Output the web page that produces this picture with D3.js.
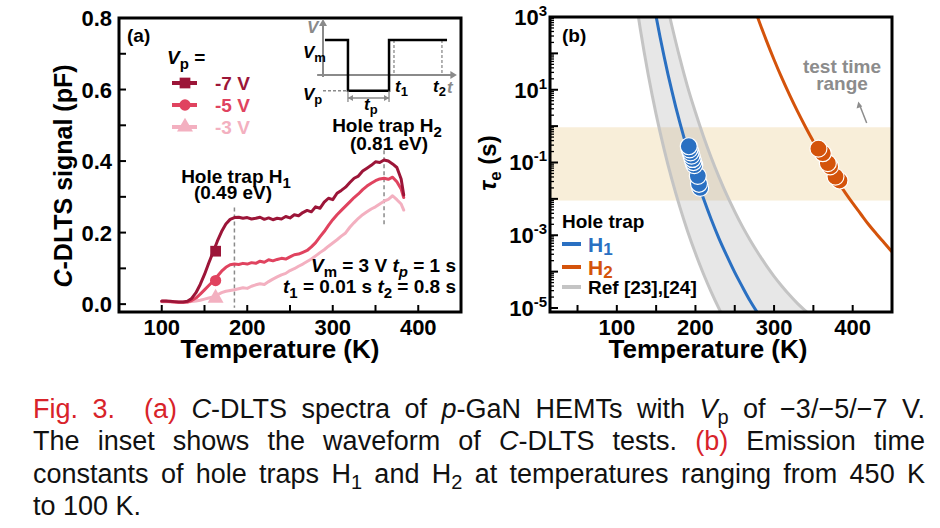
<!DOCTYPE html>
<html><head><meta charset="utf-8">
<script src="https://cdn.jsdelivr.net/npm/d3@7"></script>
<style>
body{margin:0;background:#fff;}
svg{display:block;}
text{font-family:"Liberation Sans", Arial, Helvetica, sans-serif;}
</style></head><body>
<svg id="chart" width="940" height="528"></svg>
<script>
// ---------------- DATA ----------------
// Panel (a): C-DLTS spectra
const tempA = [100,105,110,115,120,125,130,135,140,145,150,155,160,165,170,175,180,185,190,195,200,205,210,215,220,225,230,235,240,245,250,255,260,265,270,275,280,285,290,295,300,305,310,315,320,325,330,335,340,345,350,355,360,365,370,375,380,383];
const sig7 = [0.009,0.009,0.008,0.007,0.006,0.006,0.008,0.016,0.032,0.055,0.083,0.115,0.145,0.176,0.203,0.224,0.237,0.242,0.243,0.240,0.242,0.238,0.240,0.243,0.237,0.241,0.236,0.240,0.238,0.245,0.241,0.250,0.247,0.256,0.262,0.258,0.272,0.268,0.285,0.296,0.292,0.310,0.318,0.327,0.340,0.352,0.358,0.372,0.380,0.388,0.398,0.396,0.403,0.400,0.392,0.382,0.350,0.305];
const sig5 = [0.008,0.008,0.007,0.006,0.005,0.005,0.006,0.010,0.017,0.028,0.040,0.052,0.064,0.078,0.092,0.103,0.110,0.112,0.111,0.114,0.112,0.116,0.114,0.120,0.117,0.124,0.121,0.125,0.128,0.126,0.132,0.138,0.140,0.145,0.150,0.160,0.172,0.188,0.203,0.220,0.236,0.250,0.262,0.274,0.286,0.298,0.308,0.320,0.330,0.338,0.345,0.350,0.352,0.349,0.355,0.342,0.322,0.298];
const sig3 = [0.007,0.007,0.006,0.005,0.005,0.005,0.006,0.007,0.009,0.011,0.014,0.017,0.020,0.026,0.032,0.036,0.038,0.040,0.043,0.046,0.044,0.050,0.054,0.057,0.055,0.063,0.070,0.076,0.082,0.086,0.094,0.099,0.106,0.112,0.119,0.126,0.135,0.144,0.152,0.162,0.171,0.180,0.190,0.199,0.215,0.228,0.240,0.250,0.258,0.266,0.272,0.280,0.288,0.293,0.303,0.292,0.280,0.263];
const seriesLabels = ["-7 V","-5 V","-3 V"];
const markerTemp = [163,163,163];
const markerSig = [0.148,0.066,0.017];
const trapTemp = [185,360];
const trapTop = [0.27,0.43];
const trapBottom = [-0.01,0.215];
const xTicksA = [100,150,200,250,300,350,400];
const xLabelsA = [100,200,300,400];
const yTicksA = [0,0.1,0.2,0.3,0.4,0.5,0.6,0.7,0.8];
const yLabelsA = ["0.0","0.2","0.4","0.6","0.8"];
// inset waveform (schematic units)
const insetT = [0.15,1.92,1.92,5.08,5.08,9.54];
const insetV = [1,1,-0.45,-0.45,1,1];
const insetMarks = [5.46,9.15]; // t1, t2

// Panel (b): emission time constants
const h1Temp = [145,150,155,160,165,170,175,180,185,190,195,200,210,220,230,240,250,260,270,280];
const h1Tau  = [4070,1020,283,85,27,9.3,3.35,1.29,0.52,0.219,0.0964,0.0447,0.0105,2.75e-3,8.1e-4,2.7e-4,9.5e-5,3.7e-5,1.5e-5,6.8e-6];
const h2Temp = [275,280,290,300,310,320,330,340,350,360,370,380,390,400,410,420,430,440,450];
const h2Tau  = [1750,871,231,66.8,20.8,7.0,2.5,0.95,0.38,0.16,0.070,0.032,0.0154,0.0076,0.0039,0.0020,0.0011,6.2e-4,3.5e-4];
const refLowTemp = [125,130,140,150,160,170,180,190,200,210,220,230,235];
const refLowTau  = [2190,444,25.4,2.11,0.238,0.0343,6.1e-3,1.29e-3,3.18e-4,8.9e-5,2.79e-5,9.6e-6,5.8e-6];
const refHighTemp = [165,170,180,190,200,210,220,230,240,250,260,270,280,290,300,310,320,330,340,345];
const refHighTau  = [1660,575,75.9,12.0,2.40,0.537,0.138,0.0398,0.0126,4.47e-3,1.70e-3,7.08e-4,3.16e-4,1.48e-4,7.41e-5,3.98e-5,2.24e-5,1.32e-5,8.3e-6,6.6e-6];
const h1MarkTemp = [191.5,192.5,193.8,195,196.2,197.3,198.5,203,204.5,206];
const h1MarkTau  = [0.28,0.23,0.19,0.155,0.125,0.103,0.085,0.043,0.026,0.020];
const h2MarkTemp = [356.4,362,368.4,371.3,378.1,383.2];
const h2MarkTau  = [0.24,0.18,0.096,0.078,0.041,0.032];
const testRange = [0.009,0.93];
const xTicksB = [50,100,150,200,250,300,350,400];
const xLabelsB = [100,200,300,400];
const yExpB = [-5,-3,-1,1,3];

// ---------------- STYLE ----------------
const C7 = "#9c1538", C5 = "#e0435f", C3 = "#f3b0c0";
const BLUE = "#2a70c2", ORANGE = "#d4530b", REFG = "#c4c4c4";
const RED = "#d8232a";

const svg = d3.select("#chart");
svg.append("rect").attr("width",940).attr("height",528).attr("fill","#fff");

function rich(parent, x, y, parts, o = {}) {
  const t = parent.append("text").attr("x", x).attr("y", y)
    .attr("font-size", o.size || 20).attr("font-weight", o.weight || "bold")
    .attr("fill", o.fill || "#000").attr("text-anchor", o.anchor || "start");
  if (o.transform) t.attr("transform", o.transform);
  let shift = 0;
  parts.forEach(p => {
    const s = t.append("tspan").text(p.t);
    const target = p.sub ? p.sub : (p.sup ? -p.sup : 0);
    if (target !== shift) { s.attr("dy", target - shift); shift = target; }
    if (p.italic) s.attr("font-style", "italic");
    if (p.size) s.attr("font-size", p.size);
    if (p.fill) s.attr("fill", p.fill);
  });
  return t;
}

// ================= PANEL A =================
const A = {l:119, t:18, r:461, b:312};
const xA = d3.scaleLinear().domain([50,450]).range([A.l, A.r]);
const yA = d3.scaleLinear().domain([-0.022,0.8]).range([A.b, A.t]);
svg.append("clipPath").attr("id","clipA").append("rect")
  .attr("x",A.l).attr("y",A.t).attr("width",A.r-A.l).attr("height",A.b-A.t);
const gA = svg.append("g");
const plotA = gA.append("g").attr("clip-path","url(#clipA)");

// dashed trap markers
trapTemp.forEach((T,i) => {
  plotA.append("line").attr("x1",xA(T)).attr("x2",xA(T))
    .attr("y1",yA(trapTop[i])).attr("y2",yA(trapBottom[i]))
    .attr("stroke","#8a8a8a").attr("stroke-width",1.5).attr("stroke-dasharray","4,3");
});

const lineA = d3.line().x(d=>xA(d[0])).y(d=>yA(d[1]));
const seriesA = [sig3, sig5, sig7];
const colorsA = [C3, C5, C7];
seriesA.forEach((s,i) => {
  plotA.append("path").datum(d3.zip(tempA, s)).attr("d", lineA)
    .attr("fill","none").attr("stroke", colorsA[i]).attr("stroke-width",3)
    .attr("stroke-linejoin","round").attr("stroke-linecap","round");
});
// markers on curves
const symTypes = [d3.symbolSquare, d3.symbolCircle, d3.symbolTriangle];
const symSizes = [115, 100, 110];
const symColors = [C7, C5, C3];
markerTemp.forEach((T,i) => {
  plotA.append("path").attr("d", d3.symbol().type(symTypes[i]).size(symSizes[i])())
    .attr("transform",`translate(${xA(T)},${yA(markerSig[i])})`).attr("fill", symColors[i]);
});

// ticks A
yTicksA.forEach(v => {
  gA.append("line").attr("x1",A.l).attr("x2",A.l+7).attr("y1",yA(v)).attr("y2",yA(v))
    .attr("stroke","#000").attr("stroke-width",2);
});
xTicksA.forEach(v => {
  gA.append("line").attr("x1",xA(v)).attr("x2",xA(v)).attr("y1",A.b).attr("y2",A.b-7)
    .attr("stroke","#000").attr("stroke-width",2);
});
yLabelsA.forEach(l => {
  gA.append("text").attr("x",112).attr("y",yA(+l)+8).attr("text-anchor","end")
    .attr("font-size",22).attr("font-weight","bold").text(l);
});
xLabelsA.forEach(v => {
  gA.append("text").attr("x",xA(v)).attr("y",335).attr("text-anchor","middle")
    .attr("font-size",22).attr("font-weight","bold").text(v);
});
gA.append("rect").attr("x",A.l).attr("y",A.t).attr("width",A.r-A.l).attr("height",A.b-A.t)
  .attr("fill","none").attr("stroke","#000").attr("stroke-width",3);

// titles A
gA.append("text").attr("x",280).attr("y",358).attr("text-anchor","middle")
  .attr("font-size",26).attr("font-weight","bold").text("Temperature (K)");
rich(gA, 0, 0, [{t:"C",italic:true},{t:"-DLTS signal (pF)"}],
  {size:25, anchor:"middle", transform:"translate(72,176) rotate(-90)"});
gA.append("text").attr("x",127).attr("y",42).attr("font-size",19).attr("font-weight","bold").text("(a)");

// legend A
rich(gA, 167, 64, [{t:"V",italic:true},{t:"p",sub:5,size:15},{t:" ="}], {size:19});
const legY = [83,105,127];
seriesLabels.forEach((lab,i) => {
  gA.append("line").attr("x1",172).attr("x2",197).attr("y1",legY[i]).attr("y2",legY[i])
    .attr("stroke",symColors[i]).attr("stroke-width",4);
  gA.append("path").attr("d", d3.symbol().type(symTypes[i]).size(symSizes[i])())
    .attr("transform",`translate(185,${legY[i]})`).attr("fill",symColors[i]);
  gA.append("text").attr("x",215).attr("y",legY[i]+7).attr("font-size",19)
    .attr("font-weight","bold").attr("fill",symColors[i]).text(lab);
});

// annotations A
rich(gA, 387, 132, [{t:"Hole trap H"},{t:"2",sub:5,size:15}], {size:19, anchor:"middle"});
gA.append("text").attr("x",389).attr("y",150).attr("text-anchor","middle").attr("font-size",19)
  .attr("font-weight","bold").text("(0.81 eV)");
rich(gA, 236, 183, [{t:"Hole trap H"},{t:"1",sub:5,size:15}], {size:19, anchor:"middle"});
gA.append("text").attr("x",233).attr("y",199).attr("text-anchor","middle").attr("font-size",19)
  .attr("font-weight","bold").text("(0.49 eV)");
rich(gA, 456, 272, [{t:"V",italic:true},{t:"m",sub:5,size:15},{t:" = 3 V ",sub:0},{t:"t",italic:true},{t:"p",italic:true,sub:5,size:15},{t:" = 1 s",sub:0}], {size:19, anchor:"end"});
rich(gA, 456, 293, [{t:"t",italic:true},{t:"1",sub:5,size:15},{t:" = 0.01 s  ",sub:0},{t:"t",italic:true},{t:"2",sub:5,size:15},{t:" = 0.8 s",sub:0}], {size:19, anchor:"end"});

// inset
const xi = d3.scaleLinear().domain([0,10]).range([323,453]);
const yi = d3.scaleLinear().domain([0,1]).range([75,40]);
const gI = gA.append("g");
const GR = "#8a8a8a";
gI.append("line").attr("x1",xi(0)).attr("x2",xi(0)).attr("y1",yi(-0.06)).attr("y2",yi(1.47))
  .attr("stroke",GR).attr("stroke-width",2);
gI.append("path").attr("d",`M${xi(0)-4},${yi(1.4)} L${xi(0)},${yi(1.6)} L${xi(0)+4},${yi(1.4)} Z`).attr("fill",GR);
gI.append("line").attr("x1",xi(-0.45)).attr("x2",xi(9.95)).attr("y1",yi(0)).attr("y2",yi(0))
  .attr("stroke",GR).attr("stroke-width",2);
gI.append("path").attr("d",`M${xi(9.8)},${yi(0)-4} L${xi(10.3)},${yi(0)} L${xi(9.8)},${yi(0)+4} Z`).attr("fill",GR);
// dashed guides
gI.append("line").attr("x1",xi(0)).attr("x2",xi(1.92)).attr("y1",yi(-0.45)).attr("y2",yi(-0.45))
  .attr("stroke",GR).attr("stroke-width",1.3).attr("stroke-dasharray","3,2");
insetMarks.forEach(t => {
  gI.append("line").attr("x1",xi(t)).attr("x2",xi(t)).attr("y1",yi(1)).attr("y2",yi(0))
    .attr("stroke",GR).attr("stroke-width",1.3).attr("stroke-dasharray","3,2");
});
gI.append("path").datum(d3.zip(insetT, insetV))
  .attr("d", d3.line().x(d=>xi(d[0])).y(d=>yi(d[1])))
  .attr("fill","none").attr("stroke","#000").attr("stroke-width",2.5);
// tp arrow
const tpY = 98;
gI.append("line").attr("x1",xi(1.92)).attr("x2",xi(5.08)).attr("y1",tpY).attr("y2",tpY).attr("stroke",GR).attr("stroke-width",1.3);
[1.92,5.08].forEach(t => gI.append("line").attr("x1",xi(t)).attr("x2",xi(t)).attr("y1",yi(-0.45)).attr("y2",tpY+4).attr("stroke",GR).attr("stroke-width",1.3));
gI.append("path").attr("d",`M${xi(1.92)},${tpY} l5,-3 l0,6 Z M${xi(5.08)},${tpY} l-5,-3 l0,6 Z`).attr("fill",GR);
rich(gI, 307, 33, [{t:"V",italic:true}], {size:17, fill:GR});
rich(gI, 447, 93, [{t:"t",italic:true}], {size:17, fill:GR});
rich(gI, 303, 58, [{t:"V",italic:true},{t:"m",sub:4,size:13}], {size:17});
rich(gI, 303, 100, [{t:"V",italic:true},{t:"p",sub:4,size:13}], {size:17});
rich(gI, 395, 92, [{t:"t",italic:true},{t:"1",sub:4,size:13}], {size:17});
rich(gI, 433, 92, [{t:"t",italic:true},{t:"2",sub:4,size:13}], {size:17});
rich(gI, 364, 110, [{t:"t",italic:true},{t:"p",sub:4,size:13}], {size:17});

// ================= PANEL B =================
const B = {l:550, t:17, r:892, b:312};
const xB = d3.scaleLinear().domain([15,450]).range([B.l, B.r]);
const yB = d3.scaleLog().domain([Math.pow(10,-5.11), 1000]).range([B.b, B.t]);
svg.append("clipPath").attr("id","clipB").append("rect")
  .attr("x",B.l).attr("y",B.t).attr("width",B.r-B.l).attr("height",B.b-B.t);
const gB = svg.append("g");
const plotB = gB.append("g").attr("clip-path","url(#clipB)");

plotB.append("rect").attr("x",B.l).attr("width",B.r-B.l)
  .attr("y",yB(testRange[1])).attr("height",yB(testRange[0])-yB(testRange[1])).attr("fill","#f8eed9");

const lineB = d3.line().x(d=>xB(d[0])).y(d=>yB(d[1])).curve(d3.curveMonotoneX);
const lowPts = d3.zip(refLowTemp, refLowTau), highPts = d3.zip(refHighTemp, refHighTau);
const bandD = lineB(lowPts) + "L" + lineB(highPts.slice().reverse()).slice(1) + "Z";
plotB.append("path").attr("d", bandD).attr("fill","#a8a8a8").attr("fill-opacity",0.28);
[lowPts, highPts].forEach(p => plotB.append("path").datum(p).attr("d",lineB)
  .attr("fill","none").attr("stroke",REFG).attr("stroke-width",3));
plotB.append("path").datum(d3.zip(h1Temp,h1Tau)).attr("d",lineB)
  .attr("fill","none").attr("stroke",BLUE).attr("stroke-width",3);
plotB.append("path").datum(d3.zip(h2Temp,h2Tau)).attr("d",lineB)
  .attr("fill","none").attr("stroke",ORANGE).attr("stroke-width",3);
// markers (lower ones drawn first)
[[h1MarkTemp,h1MarkTau,BLUE],[h2MarkTemp,h2MarkTau,ORANGE]].forEach(([ts,vs,c]) => {
  d3.range(ts.length).reverse().forEach(i => {
    plotB.append("circle").attr("cx",xB(ts[i])).attr("cy",yB(vs[i])).attr("r",8.5)
      .attr("fill",c).attr("stroke","#fff").attr("stroke-width",1.2);
  });
});

// ticks B
xTicksB.forEach(v => gB.append("line").attr("x1",xB(v)).attr("x2",xB(v)).attr("y1",B.b).attr("y2",B.b-7)
  .attr("stroke","#000").attr("stroke-width",2));
for (let e = -5; e < 3; e++) {
  for (let m = 1; m <= 9; m++) {
    const v = m * Math.pow(10, e);
    gB.append("line").attr("x1",B.l).attr("x2",B.l + (m===1?8:4)).attr("y1",yB(v)).attr("y2",yB(v))
      .attr("stroke","#000").attr("stroke-width", m===1?2:1.3);
  }
}
xLabelsB.forEach(v => gB.append("text").attr("x",xB(v)).attr("y",335).attr("text-anchor","middle")
  .attr("font-size",22).attr("font-weight","bold").text(v));
yExpB.forEach(e => rich(gB, 547, yB(Math.pow(10,e))+8, [{t:"10"},{t:String(e),sup:9,size:15}], {size:22, anchor:"end"}));
gB.append("rect").attr("x",B.l).attr("y",B.t).attr("width",B.r-B.l).attr("height",B.b-B.t)
  .attr("fill","none").attr("stroke","#000").attr("stroke-width",3);

gB.append("text").attr("x",708).attr("y",358).attr("text-anchor","middle")
  .attr("font-size",26).attr("font-weight","bold").text("Temperature (K)");
rich(gB, 0, 0, [{t:"\u03c4",italic:true},{t:"e",sub:5,size:17},{t:" (s)",sub:0}],
  {size:24, anchor:"middle", transform:"translate(496,163) rotate(-90)"});
gB.append("text").attr("x",562).attr("y",42).attr("font-size",19).attr("font-weight","bold").text("(b)");

// test time range
gB.append("text").attr("x",842).attr("y",73).attr("text-anchor","middle").attr("font-size",19)
  .attr("font-weight","bold").attr("fill","#8c8c8c").text("test time");
gB.append("text").attr("x",842).attr("y",90).attr("text-anchor","middle").attr("font-size",19)
  .attr("font-weight","bold").attr("fill","#8c8c8c").text("range");
gB.append("line").attr("x1",866.7).attr("y1",123).attr("x2",860).attr("y2",106)
  .attr("stroke","#8c8c8c").attr("stroke-width",1.5);
gB.append("path").attr("d","M858.3,101.5 L856.6,108.6 L862.2,106.5 Z").attr("fill","#8c8c8c");

// legend B
gB.append("text").attr("x",562).attr("y",228).attr("font-size",19).attr("font-weight","bold").text("Hole trap");
const legB = [{y:244, c:BLUE, sub:"1"}, {y:267, c:ORANGE, sub:"2"}];
legB.forEach(d => {
  gB.append("line").attr("x1",562).attr("x2",581).attr("y1",d.y).attr("y2",d.y).attr("stroke",d.c).attr("stroke-width",4);
  rich(gB, 588, d.y+8, [{t:"H"},{t:d.sub,sub:3,size:17}], {size:21, fill:d.c});
});
gB.append("line").attr("x1",562).attr("x2",581).attr("y1",287).attr("y2",287).attr("stroke",REFG).attr("stroke-width",4);
gB.append("text").attr("x",588).attr("y",294).attr("font-size",19).attr("font-weight","bold").text("Ref [23],[24]");

// ================= CAPTION =================
const captionLines = [
  [{t:"Fig. 3.",fill:RED},{t:"  "},{t:"(a)",fill:RED},{t:" "},{t:"C",italic:true},{t:"-DLTS spectra of "},{t:"p",italic:true},{t:"-GaN HEMTs with "},{t:"V",italic:true},{t:"p",sub:6,size:20},{t:" of \u22123/\u22125/\u22127 V.",sub:0}],
  [{t:"The inset shows the waveform of "},{t:"C",italic:true},{t:"-DLTS tests. "},{t:"(b)",fill:RED},{t:" Emission time"}],
  [{t:"constants of hole traps H"},{t:"1",sub:6,size:20},{t:" and H",sub:0},{t:"2",sub:6,size:20},{t:" at temperatures ranging from 450 K",sub:0}],
  [{t:"to 100 K."}]
];
const capY = [418, 450, 483, 515];
captionLines.forEach((parts,i) => {
  const t = rich(svg, 33, capY[i], parts, {size:27, weight:"normal", fill:"#111"});
  t.style("white-space","pre");
  if (i < 3) {
    const len = t.node().getComputedTextLength();
    const n = parts.map(p=>p.t).join("").split(" ").length - 1;
    t.style("word-spacing", ((925-33-len)/n) + "px");
  }
});
</script>
</body></html>
